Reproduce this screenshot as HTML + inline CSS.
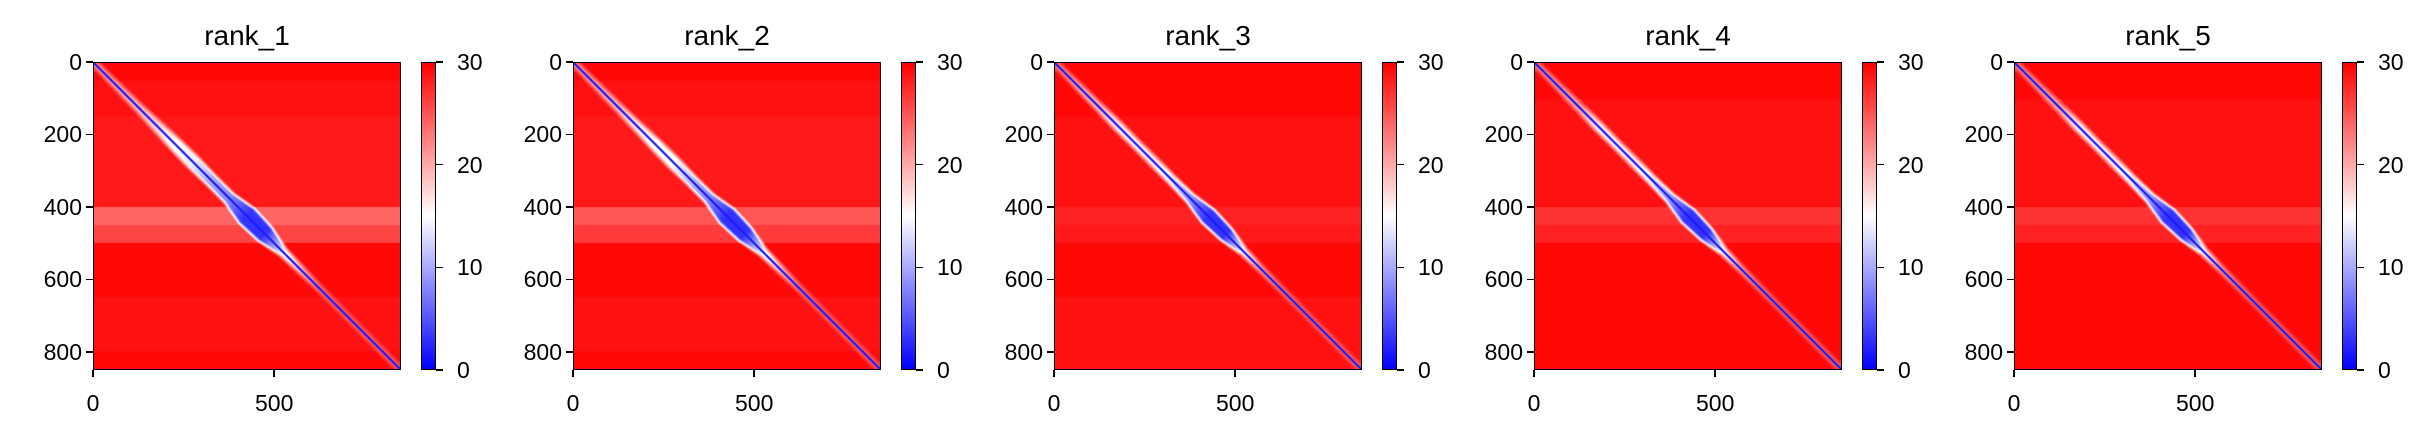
<!DOCTYPE html>
<html><head><meta charset="utf-8">
<style>
html,body{margin:0;padding:0;background:#fff;width:2435px;height:438px;overflow:hidden;font-family:"Liberation Sans","DejaVu Sans",sans-serif;}
#wrap{position:relative;width:2435px;height:438px;}
.ax{position:absolute;border:1.5px solid #000;box-sizing:border-box;}
.ax canvas{display:block;width:100%;height:100%;}
.cb{position:absolute;border:1.5px solid #000;box-sizing:border-box;background:linear-gradient(to top,#0000ff,#ffffff,#ff0000);}
.t{position:absolute;font-size:23px;color:#000;white-space:nowrap;line-height:1;}
.title{position:absolute;font-size:28px;color:#000;white-space:nowrap;line-height:1;}
.tk{position:absolute;background:#000;}
</style></head><body>
<div id="wrap"></div>
<script>
// ----- data -----
const panelTitles = ["rank_1","rank_2","rank_3","rank_4","rank_5"];
const nRes = 850;
const binSize = 50;
const axisTicks = [0,200,400,600,800];
const xTicks = [0,500];
const cbTicks = [0,10,20,30];
// near-diagonal PAE per 50-residue bin
const diagPae1 = [22,21,20,18,15,14,10,8,3,3,14,20,24,25,25,25,25];
const diagPae2 = [22,21,20,17,15,15,11,8,3,3,14,20,24,25,25,25,25];
const diagPae3 = [23,21,20,17,16,17,13,9,3,3,16,22,24,25,25,25,25];
const diagPae4 = [23,22,21,17,16,17,13,9,3,3,16,22,24,25,25,25,25];
const diagPae5 = [23,22,21,17,16,17,13,9,3,3,16,22,24,25,25,25,25];
// width (residues) of low-PAE halo around diagonal per bin
const diagSpread1 = [6,8,10,14,18,20,16,16,32,28,10,8,6,6,6,6,6];
const diagSpread2 = [6,8,10,12,16,18,14,14,30,26,10,8,6,6,6,6,6];
const diagSpread3 = [6,8,10,12,10,12,10,12,26,22,8,6,6,6,6,6,6];
const diagSpread4 = [6,8,10,12,10,12,10,12,26,22,8,6,6,6,6,6,6];
const diagSpread5 = [6,8,10,12,10,12,10,12,26,22,8,6,6,6,6,6,6];
// background PAE per row bin
const rowBg1 = [29.5,29,29,28.5,28.5,28.5,28.5,28.5,24,26,29.5,29.5,29.5,29,29,29,29.5];
const rowBg2 = [29.5,29,29,28.5,28.5,28.5,28.5,28.5,25,26.5,29.5,29.5,29.5,29,29,29,29.5];
const rowBg3 = [29.5,29.5,29.5,29,29,29,29,29,28,28.5,29.5,29.5,29.5,29,29,29,29];
const rowBg4 = [29.5,29.5,29,29,29,29,29,29,27,28,29.5,29.5,29.5,29.5,29.5,29.5,29.5];
const rowBg5 = [29.5,29.5,29,29,29,29,29,29,27,28,29.5,29.5,29.5,29.5,29.5,29.5,29.5];
// background PAE per column bin
const colBg1 = [30,30,30,30,30,30,30,30,30,30,30,30,30,30,30,30,30];
const colBg2 = [30,30,30,30,30,30,30,30,30,30,30,30,30,30,30,30,30];
const colBg3 = [30,30,30,30,30,30,30,30,30,30,30,30,30,30,30,30,30];
const colBg4 = [30,30,30,30,30,30,30,30,30,30,30,30,30,30,30,30,30];
const colBg5 = [30,30,30,30,30,30,30,30,30,30,30,30,30,30,30,30,30];
const diagPae = [diagPae1,diagPae2,diagPae3,diagPae4,diagPae5];
const diagSpread = [diagSpread1,diagSpread2,diagSpread3,diagSpread4,diagSpread5];
const rowBg = [rowBg1,rowBg2,rowBg3,rowBg4,rowBg5];
const colBg = [colBg1,colBg2,colBg3,colBg4,colBg5];

// ----- layout -----
const wrap = document.getElementById('wrap');
const L0 = 93, STEP = 480.25, TOP = 62, SZ = 308, CBX = 328, CBW = 15;
function bwr(v){
  v = Math.max(0, Math.min(30, v));
  if (v < 15){ const t = v/15; return [t*255, t*255, 255]; }
  const t = (v-15)/15; return [255, (1-t)*255, (1-t)*255];
}
function mk(tag, cls, name, css, txt){
  const e = document.createElement(tag);
  if (cls) e.className = cls;
  
  
  Object.assign(e.style, css);
  if (txt !== undefined) e.textContent = txt;
  wrap.appendChild(e);
  return e;
}
function interp(arr, pos){
  // smooth interpolation between bin centers
  const f = pos/binSize - 0.5;
  const a = Math.max(0, Math.min(arr.length-1, Math.floor(f)));
  const b = Math.min(arr.length-1, a+1);
  const t = Math.max(0, Math.min(1, f - a));
  return arr[a]*(1-t) + arr[b]*t;
}
panelTitles.forEach((title, p) => {
  const left = Math.round(L0 + p*STEP);
  const ys = v => TOP + v/nRes*SZ;
  const xs = v => left + v/nRes*SZ;
  mk('div','title','panel-title',{left:(left+SZ/2)+'px',top:'22px',transform:'translateX(-50%)'},title);
  const ax = mk('div','ax','pae-heatmap',{left:left+'px',top:TOP+'px',width:SZ+'px',height:SZ+'px'});
  const cv = document.createElement('canvas');
  
  
  cv.width = SZ; cv.height = SZ; ax.appendChild(cv);
  const ctx = cv.getContext('2d');
  const img = ctx.createImageData(SZ, SZ);
  const dp = diagPae[p], sp = diagSpread[p], rb = rowBg[p], cb = colBg[p];
  const nb = dp.length;
  for (let py=0; py<SZ; py++){
    const i = (py+0.5)/SZ*nRes;
    const ri = Math.min(nb-1, Math.floor(i/binSize));
    for (let px=0; px<SZ; px++){
      const j = (px+0.5)/SZ*nRes;
      const ci = Math.min(nb-1, Math.floor(j/binSize));
      const m = (i+j)/2;
      const near = interp(dp, m), spr = interp(sp, m);
      const bg = Math.min(rb[ri], cb[ci]);
      const d = Math.abs(i-j);
      let v;
      if (d < 4) v = 1.5;
      else if (d < spr) v = near;
      else v = near + (bg-near)*Math.min(1,(d-spr)/18);
      const c = bwr(v);
      const k = (py*SZ+px)*4;
      img.data[k]=c[0]; img.data[k+1]=c[1]; img.data[k+2]=c[2]; img.data[k+3]=255;
    }
  }
  ctx.putImageData(img,0,0);
  axisTicks.forEach(t => {
    mk('div','tk','y-tick',{left:(left-7)+'px',top:(ys(t)-0.75)+'px',width:'7px',height:'1.5px'});
    mk('div','t','y-tick-label',{right:(2435-left+11)+'px',top:(ys(t)-11)+'px'},String(t));
  });
  xTicks.forEach(t => {
    mk('div','tk','x-tick',{left:(xs(t)-0.75)+'px',top:(TOP+SZ)+'px',width:'1.5px',height:'7px'});
    mk('div','t','x-tick-label',{left:xs(t)+'px',top:'392px',transform:'translateX(-50%)'},String(t));
  });
  const cbl = left + CBX;
  mk('div','cb','colorbar',{left:cbl+'px',top:TOP+'px',width:CBW+'px',height:SZ+'px'});
  cbTicks.forEach(t => {
    const y = TOP + SZ - t/30*SZ;
    mk('div','tk','colorbar-tick',{left:(cbl+CBW)+'px',top:(y-0.75)+'px',width:'7px',height:'1.5px'});
    mk('div','t','colorbar-tick-label',{left:(cbl+CBW+21)+'px',top:(y-11)+'px'},String(t));
  });
});
</script>
</body></html>
